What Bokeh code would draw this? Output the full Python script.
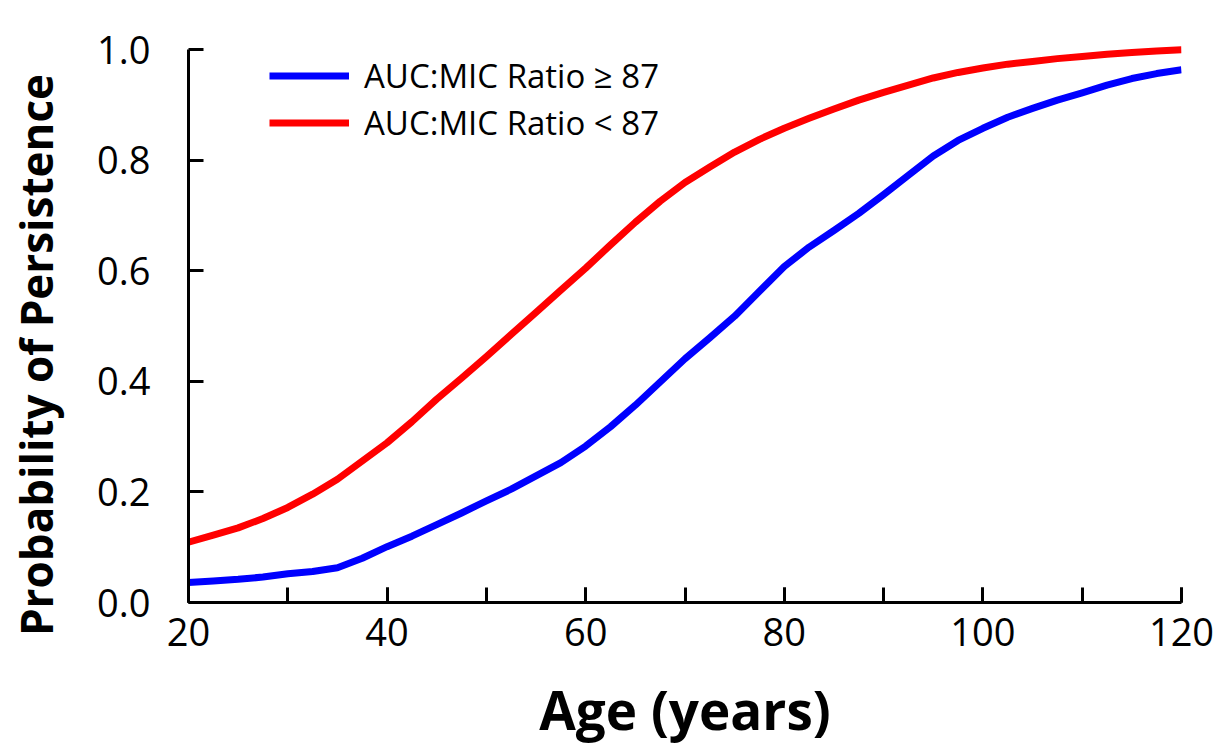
from bokeh.plotting import figure
from bokeh.models import (Range1d, SingleIntervalTicker, Legend, LegendItem, ColumnDataSource,
                          NumeralTickFormatter)
from bokeh.embed import file_html
from bokeh.resources import INLINE

# ---- data ----
age = [20, 22.5, 25, 27.5, 30, 32.5, 35, 37.5, 40, 42.5, 45, 47.5, 50, 52.5, 55, 57.5, 60, 62.5,
       65, 67.5, 70, 72.5, 75, 77.5, 80, 82.5, 85, 87.5, 90, 92.5, 95, 97.5, 100, 102.5, 105,
       107.5, 110, 112.5, 115, 117.5, 120]
prob_ratio_ge_87 = [0.036, 0.039, 0.042, 0.046, 0.052, 0.056, 0.063, 0.080, 0.101, 0.120, 0.141,
                    0.162, 0.184, 0.205, 0.229, 0.253, 0.283, 0.318, 0.357, 0.399, 0.441, 0.479,
                    0.518, 0.563, 0.608, 0.643, 0.673, 0.704, 0.738, 0.773, 0.808, 0.836, 0.858,
                    0.878, 0.894, 0.909, 0.922, 0.936, 0.948, 0.957, 0.964]
prob_ratio_lt_87 = [0.109, 0.122, 0.135, 0.152, 0.172, 0.196, 0.223, 0.256, 0.289, 0.327, 0.368,
                    0.406, 0.445, 0.485, 0.525, 0.565, 0.605, 0.647, 0.688, 0.726, 0.760, 0.788,
                    0.815, 0.838, 0.858, 0.876, 0.893, 0.909, 0.923, 0.936, 0.949, 0.959, 0.967,
                    0.974, 0.979, 0.984, 0.988, 0.992, 0.995, 0.998, 1.000]
series_labels = ["AUC:MIC Ratio \u2265 87", "AUC:MIC Ratio < 87"]
series_colors = ["#0000ff", "#ff0000"]
x_title = "Age (years)"
y_title = "Probability of Persistence"

FONT = "Open Sans"

p = figure(width=1220, height=748, output_backend="svg", toolbar_location=None,
           x_range=Range1d(20, 120), y_range=Range1d(0, 1.015),
           min_border_left=188, min_border_right=39, min_border_top=41, min_border_bottom=140)
p.outline_line_color = None
p.xgrid.visible = False
p.ygrid.visible = False
p.background_fill_color = "white"

src = ColumnDataSource(dict(age=age, hi=prob_ratio_ge_87, lo=prob_ratio_lt_87))
r_hi = p.line("age", "hi", source=src, line_color=series_colors[0], line_width=7,
              line_join="round")
r_lo = p.line("age", "lo", source=src, line_color=series_colors[1], line_width=7,
              line_join="round")

# x axis
xa = p.xaxis[0]
xa.ticker = SingleIntervalTicker(interval=20, num_minor_ticks=2)
xa.axis_line_width = 3
xa.major_tick_line_width = 3
xa.minor_tick_line_width = 3
xa.major_tick_in = 15
xa.major_tick_out = 0
xa.minor_tick_in = 15
xa.minor_tick_out = 0
xa.major_label_text_font = FONT
xa.major_label_text_font_size = "38px"
xa.major_label_text_color = "black"
xa.major_label_standoff = 15
xa.axis_label = x_title
xa.axis_label_text_font = FONT
xa.axis_label_text_font_style = "bold"
xa.axis_label_text_font_size = "53px"
xa.axis_label_text_color = "black"
xa.axis_label_standoff = 24

# y axis
ya = p.yaxis[0]
ya.ticker = SingleIntervalTicker(interval=0.2, num_minor_ticks=0)
ya.formatter = NumeralTickFormatter(format="0.0")
ya.bounds = (0, 1)
ya.axis_line_width = 3
ya.major_tick_line_width = 3
ya.major_tick_in = 15
ya.major_tick_out = 0
ya.minor_tick_in = 0
ya.minor_tick_out = 0
ya.major_label_text_font = FONT
ya.major_label_text_font_size = "38px"
ya.major_label_text_color = "black"
ya.major_label_standoff = 38
# trailing spaces move the visible title a little below the frame centre, as in the reference
ya.axis_label = y_title + "\u2003\u2002"
ya.axis_label_text_font = FONT
ya.axis_label_text_font_style = "bold"
ya.axis_label_text_font_size = "44px"
ya.axis_label_text_color = "black"
ya.axis_label_standoff = 28

legend = Legend(items=[LegendItem(label=series_labels[0], renderers=[r_hi]),
                       LegendItem(label=series_labels[1], renderers=[r_lo])],
                location=(81, 456), border_line_color=None, background_fill_alpha=0,
                padding=0, margin=0, spacing=0, glyph_width=80, glyph_height=47,
                label_height=47, label_standoff=15,
                label_text_font=FONT, label_text_font_size="33px", label_text_color="black")
p.add_layout(legend, "center")

open("out.html", "w").write(file_html(p, INLINE))
